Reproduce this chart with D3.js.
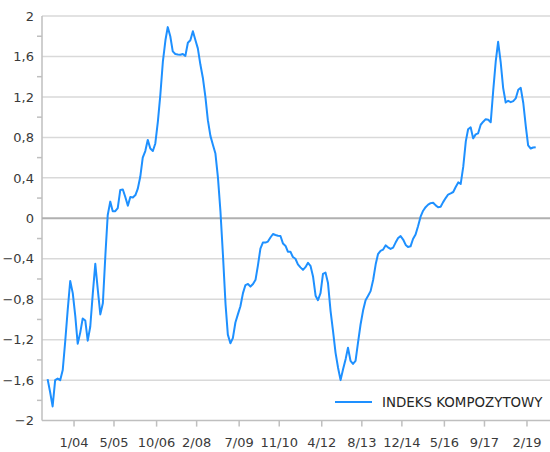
<!DOCTYPE html>
<html lang="pl">
<head>
<meta charset="utf-8">
<title>Indeks kompozytowy</title>
<script src="https://d3js.org/d3.v7.min.js"></script>
<style>
  body { margin: 0; background: #fff; }
  text { font-family: "DejaVu Sans", Verdana, sans-serif; font-size: 13px; fill: #3a3a3a; }
  .legend-text { font-size: 13.4px; fill: #262626; }
  .grid line { stroke: #d9d9d9; stroke-width: 1.5; }
  .zero { stroke: #b0b0b0; stroke-width: 2; }
  .axis-line { stroke: #bfbfbf; stroke-width: 1.5; }
  .tick-mark { stroke: #bfbfbf; stroke-width: 1.5; }
  .series { fill: none; stroke: #1e90ff; stroke-width: 2; stroke-linejoin: round; }
</style>
</head>
<body>
<script>
// monthly values, first month = March 2003
var startMonth = '3/03';
var seriesName = 'INDEKS KOMPOZYTOWY';
var values = [
  -1.59, -1.72, -1.86, -1.60, -1.585, -1.60, -1.50, -1.22, -0.90, -0.62,           // 2003
  -0.74, -0.97, -1.24, -1.13, -0.99, -1.01, -1.21, -1.07, -0.74, -0.45, -0.71, -0.95, // 2004
  -0.84, -0.36, 0.03, 0.165, 0.07, 0.07, 0.10, 0.28, 0.285, 0.21, 0.125, 0.21,     // 2005
  0.205, 0.23, 0.29, 0.41, 0.60, 0.665, 0.775, 0.69, 0.665, 0.74, 0.956, 1.22,     // 2006
  1.55, 1.76, 1.89, 1.80, 1.65, 1.625, 1.62, 1.617, 1.625, 1.605, 1.735, 1.76,     // 2007
  1.85, 1.76, 1.68, 1.52, 1.39, 1.20, 0.97, 0.815, 0.725, 0.64, 0.40, 0.07,        // 2008
  -0.37, -0.85, -1.15, -1.235, -1.185, -1.03, -0.95, -0.87, -0.74, -0.66, -0.65, -0.675, // 2009
  -0.65, -0.607, -0.47, -0.30, -0.24, -0.24, -0.23, -0.19, -0.155, -0.165, -0.173, -0.175, // 2010
  -0.25, -0.273, -0.33, -0.33, -0.383, -0.40, -0.455, -0.485, -0.51, -0.483, -0.44, -0.47, // 2011
  -0.575, -0.765, -0.81, -0.74, -0.55, -0.537, -0.64, -0.915, -1.12, -1.33, -1.48, -1.60, // 2012
  -1.49, -1.39, -1.28, -1.41, -1.44, -1.41, -1.23, -1.05, -0.91, -0.81, -0.765, -0.72, // 2013
  -0.61, -0.455, -0.355, -0.322, -0.31, -0.268, -0.287, -0.303, -0.29, -0.24, -0.195, -0.176, // 2014
  -0.21, -0.263, -0.283, -0.277, -0.205, -0.16, -0.078, 0.016, 0.075, 0.11, 0.135, 0.15, // 2015
  0.154, 0.128, 0.11, 0.115, 0.16, 0.20, 0.235, 0.247, 0.26, 0.31, 0.355, 0.34,    // 2016
  0.51, 0.76, 0.88, 0.90, 0.79, 0.83, 0.84, 0.925, 0.955, 0.98, 0.975, 0.95,       // 2017
  1.27, 1.56, 1.745, 1.545, 1.29, 1.145, 1.162, 1.148, 1.159, 1.185, 1.27, 1.29,   // 2018
  1.14, 0.907, 0.72, 0.69, 0.70, 0.703                                             // 2019
];
var xTickLabels = ['1/04', '5/05', '10/06', '2/08', '7/09', '11/10', '4/12', '8/13', '12/14', '5/16', '9/17', '2/19'];
var yTicks = [-2, -1.6, -1.2, -0.8, -0.4, 0, 0.4, 0.8, 1.2, 1.6, 2];
var yMinorTicks = [-1.8, -1.4, -1.0, -0.6, -0.2, 0.2, 0.6, 1.0, 1.4, 1.8];

var w = 550, h = 452;
var plot = {left: 42, right: 550, top: 16, bottom: 420.6};

var parseMonth = d3.timeParse('%m/%y');
var start = parseMonth(startMonth);
var data = values.map(function(v, i) {
  return {date: d3.timeMonth.offset(start, i), value: v};
});

var x = d3.scaleTime()
    .domain([data[0].date, data[data.length - 1].date])
    .range([47.6, 535.7]);
var y = d3.scaleLinear().domain([-2, 2]).range([plot.bottom, plot.top]);
var fmt = function(v) { return d3.format('.1~f')(v).replace('.', ','); };

// ticks sit between two categories
function tickX(d) {
  return (x(d) + x(d3.timeMonth.offset(d, 1))) / 2;
}

var svg = d3.select('body').append('svg')
    .attr('width', w)
    .attr('height', h);

svg.append('g').attr('class', 'grid')
  .selectAll('line')
    .data(yTicks.filter(function(d) { return d !== 0 && d !== -2; }))
  .enter().append('line')
    .attr('x1', plot.left).attr('x2', plot.right)
    .attr('y1', function(d) { return y(d); })
    .attr('y2', function(d) { return y(d); });

svg.append('line').attr('class', 'axis-line')
    .attr('x1', plot.left).attr('x2', plot.right)
    .attr('y1', y(-2)).attr('y2', y(-2));
svg.append('line').attr('class', 'axis-line')
    .attr('x1', plot.left).attr('x2', plot.left)
    .attr('y1', y(2)).attr('y2', y(-2));
svg.append('line').attr('class', 'zero')
    .attr('x1', plot.left).attr('x2', plot.right)
    .attr('y1', y(0)).attr('y2', y(0));

svg.selectAll('.ytick')
    .data(yMinorTicks)
  .enter().append('line')
    .attr('class', 'tick-mark')
    .attr('x1', plot.left - 5).attr('x2', plot.left)
    .attr('y1', function(d) { return y(d); })
    .attr('y2', function(d) { return y(d); });

svg.selectAll('.ylabel')
    .data(yTicks)
  .enter().append('text')
    .attr('class', 'ylabel')
    .attr('x', 34)
    .attr('y', function(d) { return y(d); })
    .attr('dy', '0.36em')
    .attr('text-anchor', 'end')
    .text(fmt);

var tickDates = xTickLabels.map(parseMonth);
svg.selectAll('.xtick')
    .data(tickDates)
  .enter().append('line')
    .attr('class', 'tick-mark')
    .attr('x1', tickX).attr('x2', tickX)
    .attr('y1', plot.bottom).attr('y2', plot.bottom + 6);

svg.selectAll('.xlabel')
    .data(tickDates)
  .enter().append('text')
    .attr('class', 'xlabel')
    .attr('x', tickX)
    .attr('y', 447)
    .attr('text-anchor', 'middle')
    .text(d3.timeFormat('%-m/%y'));

var line = d3.line()
    .x(function(d) { return x(d.date); })
    .y(function(d) { return y(d.value); });

svg.append('path')
    .datum(data)
    .attr('class', 'series')
    .attr('d', line);

var legend = svg.append('g').attr('transform', 'translate(335,402)');
legend.append('line')
    .attr('class', 'series')
    .attr('x1', 0).attr('x2', 37);
legend.append('text')
    .attr('class', 'legend-text')
    .attr('x', 47)
    .attr('y', 5)
    .text(seriesName);
</script>
</body>
</html>
